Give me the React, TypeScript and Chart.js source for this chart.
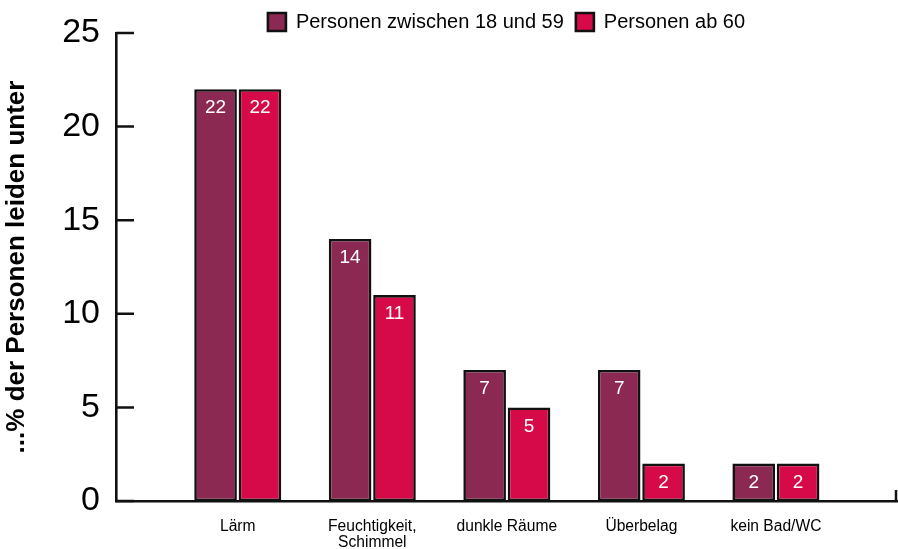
import React, { useEffect, useRef } from "react";
import { Chart, registerables } from "chart.js";

Chart.register(...registerables);

const categories: (string | string[])[] = ["Lärm", ["Feuchtigkeit,", "Schimmel"], "dunkle Räume", "Überbelag", "kein Bad/WC"];
const seriesNames = ["Personen zwischen 18 und 59", "Personen ab 60"];
const values1859 = [22, 14, 7, 7, 2];
const values60 = [22, 11, 5, 2, 2];
const yTicks = [0, 5, 10, 15, 20, 25];
const yTitle = "...% der Personen leiden unter";

const FONT = "'Liberation Sans', Arial, Helvetica, sans-serif";
const INK = "#111111";
const LEGEND_H = 33;

const extrasPlugin = {
  id: "extras",
  afterInit(chart: any) {
    const legend = chart.legend;
    if (legend && !legend.__patched) {
      const orig = legend.fit.bind(legend);
      legend.fit = function () {
        orig();
        this.height = LEGEND_H;
        this.minSize = { width: this.width, height: LEGEND_H };
      };
      legend.__patched = true;
    }
  },
  afterDatasetsDraw(chart: any) {
    const ctx = chart.ctx;
    ctx.save();
    ctx.fillStyle = "#ffffff";
    ctx.font = `19px ${FONT}`;
    ctx.textAlign = "center";
    ctx.textBaseline = "middle";
    chart.data.datasets.forEach((ds: any, di: number) => {
      const meta = chart.getDatasetMeta(di);
      meta.data.forEach((bar: any, i: number) => {
        const v = ds.data[i].y;
        ctx.fillText(String(v), bar.x, bar.y + 19);
      });
    });
    ctx.restore();
  },
  afterDraw(chart: any) {
    const ctx = chart.ctx;
    const { left, bottom } = chart.chartArea;
    const ys = chart.scales.y;
    const xs = chart.scales.x;
    ctx.save();
    ctx.strokeStyle = INK;
    ctx.lineWidth = 2.5;
    ctx.beginPath();
    yTicks.forEach((t) => {
      const py = ys.getPixelForValue(t);
      ctx.moveTo(left, py);
      ctx.lineTo(left + 18, py);
    });
    ctx.moveTo(xs.right - 1, bottom);
    ctx.lineTo(xs.right - 1, bottom - 11);
    ctx.stroke();
    ctx.restore();
  },
};

export default function App() {
  const ref = useRef<HTMLCanvasElement | null>(null);
  useEffect(() => {
    document.body.style.margin = "0";
    const canvas = ref.current;
    if (!canvas) return;
    const chart = new Chart(canvas, {
      type: "bar",
      data: {
        datasets: [
          {
            label: seriesNames[0],
            data: values1859.map((v, i) => ({ x: i, y: v })),
            backgroundColor: "#8c2952",
            borderColor: INK,
            borderWidth: 2.6,
            borderSkipped: false,
            categoryPercentage: 0.66,
            barPercentage: 0.96,
          },
          {
            label: seriesNames[1],
            data: values60.map((v, i) => ({ x: i, y: v })),
            backgroundColor: "#d60a48",
            borderColor: INK,
            borderWidth: 2.6,
            borderSkipped: false,
            categoryPercentage: 0.66,
            barPercentage: 0.96,
          },
        ],
      },
      options: {
        animation: false,
        responsive: false,
        devicePixelRatio: 1,
        layout: { padding: { top: 0, right: 1, left: 0, bottom: 0 } },
        plugins: {
          legend: {
            position: "top",
            fullSize: false,
            labels: {
              boxWidth: 18,
              boxHeight: 18,
              padding: 12,
              color: "#000",
              font: { family: FONT, size: 20 },
            },
          },
          tooltip: { enabled: false },
        },
        scales: {
          x: {
            type: "linear",
            min: -0.905,
            max: 4.9,
            offset: false,
            grid: { display: false, drawTicks: false },
            border: { display: true, color: INK, width: 2.6 },
            afterBuildTicks: (axis: any) => {
              axis.ticks = categories.map((_, i) => ({ value: i }));
            },
            afterFit: (axis: any) => {
              axis.height = 48;
              axis.paddingRight = 0;
            },
            ticks: {
              autoSkip: false,
              maxRotation: 0,
              padding: 17,
              color: "#000",
              font: { family: FONT, size: 15.6, lineHeight: 1.05 },
              callback: (value: any) => categories[value as number] as any,
            },
          },
          y: {
            min: 0,
            max: 25,
            grid: { display: false, drawTicks: false },
            border: { display: true, color: INK, width: 2.6 },
            afterBuildTicks: (axis: any) => {
              axis.ticks = yTicks.map((v) => ({ value: v }));
            },
            afterFit: (axis: any) => {
              axis.width = 116;
              axis.paddingTop = 0;
              axis.paddingBottom = 0;
            },
            ticks: {
              padding: 16,
              color: "#000",
              font: { family: FONT, size: 34 },
            },
            title: {
              display: true,
              text: yTitle,
              color: "#000",
              padding: { top: 1, bottom: 0 },
              font: { family: FONT, size: 26, weight: "bold" },
            },
          },
        },
      },
      plugins: [extrasPlugin],
    } as any);
    return () => chart.destroy();
  }, []);
  return <canvas ref={ref} width={898} height={549} style={{ display: "block" }} />;
}
